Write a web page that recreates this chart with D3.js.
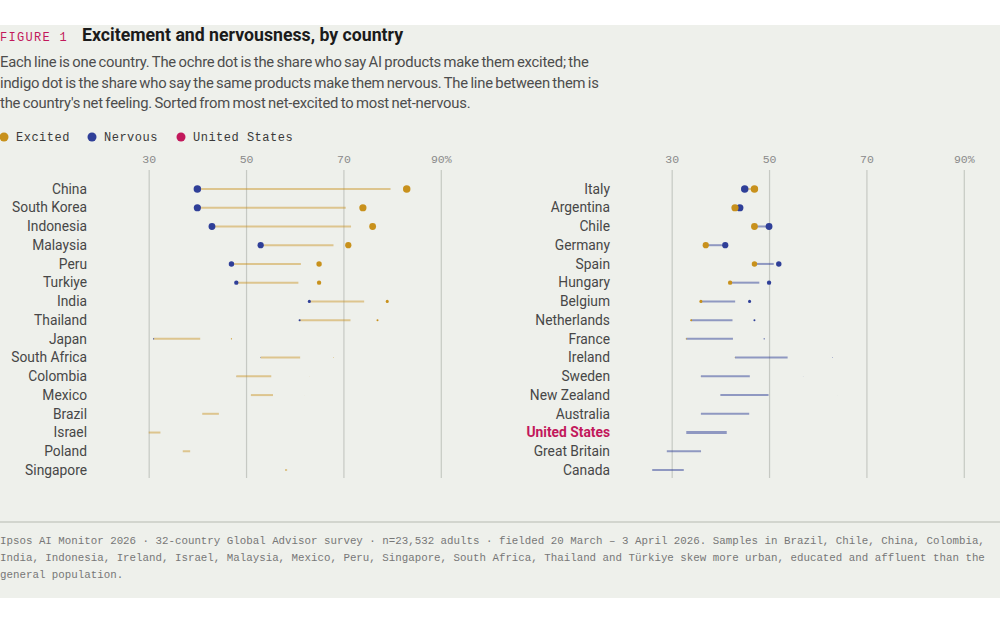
<!DOCTYPE html>
<html>
<head>
<meta charset="utf-8">
<script src="https://cdn.jsdelivr.net/npm/d3@7"></script>
<style>
  body { margin: 0; background: #fff; }
  svg { display: block; }
</style>
</head>
<body>
<div id="chart"></div>
<script>
// countries sorted from most net-excited to most net-nervous, split into two columns
const leftCountries = ["China", "South Korea", "Indonesia", "Malaysia", "Peru", "Turkiye", "India", "Thailand",
  "Japan", "South Africa", "Colombia", "Mexico", "Brazil", "Israel", "Poland", "Singapore"];
const leftExcited = [83, 74, 76, 71, 65, 65, 79, 77, 47, 68, 63, 62, 51, 39, 45, 62];
const leftNervous = [40, 40, 43, 53, 47, 48, 63, 61, 31, 53, 48, 51, 41, 30, 37, 58];

const rightCountries = ["Italy", "Argentina", "Chile", "Germany", "Spain", "Hungary", "Belgium", "Netherlands",
  "France", "Ireland", "Sweden", "New Zealand", "Australia", "United States", "Great Britain", "Canada"];
const rightExcited = [47, 43, 47, 37, 47, 42, 36, 34, 33, 43, 36, 40, 36, 33, 29, 26];
const rightNervous = [45, 44, 50, 41, 52, 50, 46, 47, 49, 63, 57, 64, 65, 64, 66, 86];

const ticks = [30, 50, 70, 90];
const subtitle = [
  "Each line is one country. The ochre dot is the share who say AI products make them excited; the",
  "indigo dot is the share who say the same products make them nervous. The line between them is",
  "the country's net feeling. Sorted from most net-excited to most net-nervous."
];
const footnote = [
  "Ipsos AI Monitor 2026 · 32-country Global Advisor survey · n=23,532 adults · fielded 20 March – 3 April 2026. Samples in Brazil, Chile, China, Colombia,",
  "India, Indonesia, Ireland, Israel, Malaysia, Mexico, Peru, Singapore, South Africa, Thailand and Türkiye skew more urban, educated and affluent than the",
  "general population."
];

const OCHRE = "#c8911c", INDIGO = "#2f3f98", CRIMSON = "#c2185b";
const SANS = "Roboto, 'Noto Sans', sans-serif";
const MONO = "'Liberation Mono', 'DejaVu Sans Mono', monospace";

// the picture is a frame of a staggered entry transition
const FRAME_MS = 650, STAGGER_MS = 40, LINE_MS = 900, DOT_DELAY_MS = 100, DOT_MS = 667;
const clamp = v => Math.max(0, Math.min(1, v));
const lineT = i => d3.easeQuadOut(clamp((FRAME_MS - i * STAGGER_MS) / LINE_MS));
const dotT = i => d3.easeCubicInOut(clamp((FRAME_MS - DOT_DELAY_MS - i * STAGGER_MS) / DOT_MS));
const R = 3.8;

const width = 1000, height = 625;
const svg = d3.select("#chart").append("svg").attr("width", width).attr("height", height);

svg.append("rect").attr("x", 0).attr("y", 25).attr("width", width).attr("height", 573).attr("fill", "#eef0eb");

// header
svg.append("text").attr("x", 0).attr("y", 41)
  .attr("font-family", MONO).attr("font-size", 12).attr("letter-spacing", 1.3)
  .attr("fill", CRIMSON).text("FIGURE 1");
svg.append("text").attr("x", 82).attr("y", 41)
  .attr("font-family", SANS).attr("font-size", 17.7).attr("font-weight", 700)
  .attr("fill", "#1b1b1b").text("Excitement and nervousness, by country");

svg.append("g").selectAll("text").data(subtitle).join("text")
  .attr("x", 0).attr("y", (d, i) => 67 + i * 20.5)
  .attr("font-family", SANS).attr("font-size", 14.8).attr("fill", "#4d4d4d")
  .attr("letter-spacing", -0.2).attr("word-spacing", -1)
  .text(d => d);

// legend
const legend = [["Excited", OCHRE, 4], ["Nervous", INDIGO, 92], ["United States", CRIMSON, 181]];
const lg = svg.append("g").selectAll("g").data(legend).join("g")
  .attr("transform", d => `translate(${d[2]},137)`);
lg.append("circle").attr("r", 4.5).attr("fill", d => d[1]);
lg.append("text").attr("x", 12).attr("y", 4.3)
  .attr("font-family", MONO).attr("font-size", 12).attr("letter-spacing", 0.5)
  .attr("fill", "#3a3a3a").text(d => d[0]);

function panel(offsetX, countries, excited, nervous) {
  const g = svg.append("g").attr("transform", `translate(${offsetX},0)`);
  const x = d3.scaleLinear().domain([20, 96]).range([100, 470]);
  const y = d3.scalePoint().domain(countries).range([189, 470]);

  const axis = d3.axisTop(x).tickValues(ticks).tickSize(-308).tickPadding(7)
    .tickFormat(d => d === 90 ? d + "%" : d);
  const ax = g.append("g").attr("transform", "translate(0,170)").call(axis);
  ax.select(".domain").remove();
  ax.selectAll(".tick line").attr("stroke", "#c6c9c3").attr("stroke-width", 1.2);
  ax.selectAll(".tick text")
    .attr("font-family", MONO).attr("font-size", 11.5).attr("fill", "#8a8a8a");

  const rows = countries.map((c, i) => ({
    c, i, exc: excited[i], nerv: nervous[i],
    lo: Math.min(excited[i], nervous[i]), hi: Math.max(excited[i], nervous[i])
  }));

  g.append("g").selectAll("text").data(rows).join("text")
    .attr("x", 87).attr("y", d => y(d.c) + 4.7).attr("text-anchor", "end")
    .attr("font-family", SANS).attr("font-size", 13.8)
    .attr("font-weight", d => d.c === "United States" ? 700 : 400)
    .attr("fill", d => d.c === "United States" ? CRIMSON : "#474747")
    .text(d => d.c);

  g.append("g").selectAll("line").data(rows).join("line")
    .attr("x1", d => x(d.lo))
    .attr("x2", d => x(d.lo + (d.hi - d.lo) * lineT(d.i)))
    .attr("y1", d => y(d.c)).attr("y2", d => y(d.c))
    .attr("stroke", d => d.exc >= d.nerv ? OCHRE : INDIGO)
    .attr("stroke-opacity", d => d.exc >= d.nerv ? 0.45 : 0.5)
    .attr("stroke-width", d => d.c === "United States" ? 3 : 2);

  g.append("g").selectAll("circle").data(rows).join("circle")
    .attr("cx", d => x(d.nerv)).attr("cy", d => y(d.c))
    .attr("r", d => R * dotT(d.i)).attr("fill", INDIGO);
  g.append("g").selectAll("circle").data(rows).join("circle")
    .attr("cx", d => x(d.exc)).attr("cy", d => y(d.c))
    .attr("r", d => R * dotT(d.i)).attr("fill", OCHRE);
}

panel(0, leftCountries, leftExcited, leftNervous);
panel(523, rightCountries, rightExcited, rightNervous);

// source note
svg.append("line").attr("x1", 0).attr("x2", width).attr("y1", 522).attr("y2", 522)
  .attr("stroke", "#c9ccc5").attr("stroke-width", 1.5);
svg.append("g").selectAll("text").data(footnote).join("text")
  .attr("x", 0).attr("y", (d, i) => 544 + i * 16.8)
  .attr("font-family", MONO).attr("font-size", 10.8).attr("fill", "#777")
  .text(d => d);
</script>
</body>
</html>
